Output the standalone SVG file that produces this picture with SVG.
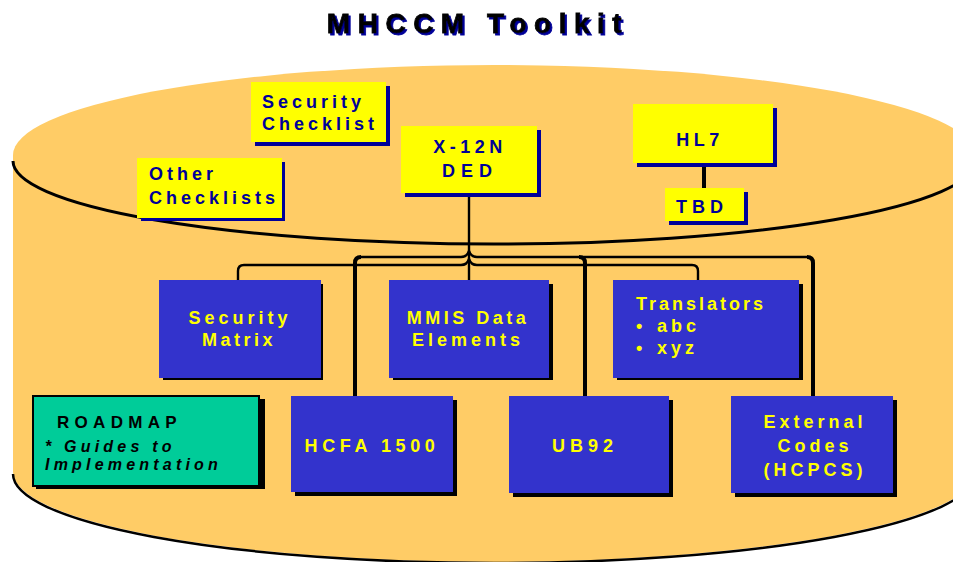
<svg xmlns="http://www.w3.org/2000/svg" width="953" height="562" viewBox="0 0 953 562">
  <defs>
    <filter id="blueShadow" x="-5%" y="-20%" width="110%" height="150%">
      <feOffset in="SourceAlpha" dx="2" dy="2" result="off"/>
      <feFlood flood-color="#000099"/>
      <feComposite in2="off" operator="in" result="shadow"/>
      <feMerge>
        <feMergeNode in="shadow"/>
        <feMergeNode in="SourceGraphic"/>
      </feMerge>
    </filter>
  </defs>
  <style>
    .ybox { fill: #FFFF00; }
    .yshd { fill: #000099; }
    .bbox { fill: #3333CC; }
    .bshd { fill: #000000; }
    .lbl { font-family: "Liberation Sans", Arial, sans-serif; font-weight: bold; font-size: 18px; }
    .yt { fill: #000099; letter-spacing: 4px; }
    .bt { fill: #FFFF00; letter-spacing: 4px; }
    .rm { fill: #000000; font-size: 17px; letter-spacing: 5.3px; }
    .rmi { fill: #000000; font-size: 16px; font-style: italic; letter-spacing: 4.2px; }
    .wire { fill: none; stroke: #000; stroke-width: 2.4; stroke-linejoin: round; }
    .bus { fill: none; stroke: #000; stroke-width: 4; stroke-linejoin: round; }
  </style>

  <rect width="953" height="562" fill="#FFFFFF"/>

  <!-- title with offset blue shadow -->
  <g id="title">
    <text x="478" y="33" text-anchor="middle" filter="url(#blueShadow)" font-family="'Liberation Sans', Arial, sans-serif" font-weight="bold" font-size="28" letter-spacing="7.5" fill="#000000" stroke="#000000" stroke-width="0.8">MHCCM Toolkit</text>
  </g>

  <!-- cylinder -->
  <g id="cylinder">
    <path d="M13,155 A481,90 0 0 1 975,155 L975,472 A481,90 0 0 1 13,472 Z" fill="#FFCC66"/>
    <path d="M13,474 A481,89 0 0 0 975,474" fill="none" stroke="#000" stroke-width="2.5"/>
    <path d="M13,161 A481,83 0 0 0 975,161" fill="none" stroke="#000" stroke-width="3"/>
  </g>

  <!-- connectors -->
  <g id="connectors">
    <path class="wire" d="M469,196 V280"/>
    <!-- upper bus line -->
    <path class="wire" d="M361,257 H461 Q467,257 469,251"/>
    <path class="wire" d="M469,251 Q471,257 477,257 H807"/>
    <!-- lower bus line -->
    <path class="wire" d="M238,280 V271 Q238,265 244,265 H461 Q467,265 469,259"/>
    <path class="wire" d="M469,259 Q471,265 477,265 H692 Q698,265 698,271 V280"/>
    <!-- drops to the lower row -->
    <path class="bus" d="M355,396 V263 Q355,257 361,257"/>
    <path class="bus" d="M579,257 Q585,257 585,263 V396"/>
    <path class="bus" d="M807,257 Q813,257 813,263 V396"/>
    <!-- HL7 to TBD -->
    <path class="bus" d="M704,166 V188"/>
  </g>

  <!-- upper standards -->
  <g id="security-checklist">
    <rect class="yshd" x="255" y="86" width="135" height="60"/>
    <rect class="ybox" x="251" y="82" width="135" height="60"/>
    <text class="lbl yt" x="262" y="108">Security</text>
    <text class="lbl yt" x="262" y="130">Checklist</text>
  </g>

  <g id="other-checklists">
    <rect class="yshd" x="141" y="162" width="144" height="59"/>
    <rect class="ybox" x="137" y="158" width="145" height="60"/>
    <text class="lbl yt" x="149" y="180">Other</text>
    <text class="lbl yt" x="149" y="204">Checklists</text>
  </g>

  <g id="x12n-ded">
    <rect class="yshd" x="405" y="130" width="136" height="67"/>
    <rect class="ybox" x="401" y="126" width="136" height="67"/>
    <text class="lbl yt" x="470" y="153" text-anchor="middle" style="letter-spacing:4.5px">X-12N</text>
    <text class="lbl yt" x="470" y="177" text-anchor="middle" style="letter-spacing:6px">DED</text>
  </g>

  <g id="hl7">
    <rect class="yshd" x="637" y="108" width="140" height="59"/>
    <rect class="ybox" x="633" y="104" width="140" height="59"/>
    <text class="lbl yt" x="700" y="146" text-anchor="middle" style="letter-spacing:4.5px">HL7</text>
  </g>

  <g id="tbd">
    <rect class="yshd" x="669" y="192" width="79" height="33"/>
    <rect class="ybox" x="665" y="188" width="79" height="33"/>
    <text class="lbl yt" x="676" y="213" style="letter-spacing:5px">TBD</text>
  </g>

  <!-- middle row -->
  <g id="security-matrix">
    <rect class="bshd" x="163" y="284" width="160" height="96"/>
    <rect class="bbox" x="159" y="280" width="162" height="98"/>
    <text class="lbl bt" x="240" y="324" text-anchor="middle">Security</text>
    <text class="lbl bt" x="239" y="346" text-anchor="middle" style="letter-spacing:3.5px">Matrix</text>
  </g>

  <g id="mmis-data-elements">
    <rect class="bshd" x="393" y="284" width="160" height="96"/>
    <rect class="bbox" x="389" y="280" width="160" height="98"/>
    <text class="lbl bt" x="468" y="324" text-anchor="middle" style="letter-spacing:3.5px">MMIS Data</text>
    <text class="lbl bt" x="468" y="346" text-anchor="middle">Elements</text>
  </g>

  <g id="translators">
    <rect class="bshd" x="617" y="284" width="186" height="96"/>
    <rect class="bbox" x="613" y="280" width="186" height="98"/>
    <text class="lbl bt" x="636" y="310" style="letter-spacing:3px">Translators</text>
    <text class="lbl bt" x="636" y="332">•</text>
    <text class="lbl bt" x="657" y="332">abc</text>
    <text class="lbl bt" x="636" y="354">•</text>
    <text class="lbl bt" x="657" y="354">xyz</text>
  </g>

  <!-- bottom row -->
  <g id="roadmap">
    <rect x="36" y="399" width="229" height="90" fill="#000"/>
    <rect x="33" y="396" width="226" height="90" fill="#00CC99" stroke="#000" stroke-width="2"/>
    <text class="lbl rm" x="57" y="428">ROADMAP</text>
    <text class="lbl rmi" x="45" y="452">* Guides to</text>
    <text class="lbl rmi" x="45" y="470">Implementation</text>
  </g>

  <g id="hcfa-1500">
    <rect class="bshd" x="295" y="400" width="162" height="96"/>
    <rect class="bbox" x="291" y="396" width="162" height="96"/>
    <text class="lbl bt" x="372" y="452" text-anchor="middle" style="letter-spacing:4.6px">HCFA 1500</text>
  </g>

  <g id="ub92">
    <rect class="bshd" x="513" y="400" width="160" height="97"/>
    <rect class="bbox" x="509" y="396" width="160" height="97"/>
    <text class="lbl bt" x="585" y="452" text-anchor="middle" style="letter-spacing:5px">UB92</text>
  </g>

  <g id="external-codes">
    <rect class="bshd" x="735" y="400" width="162" height="97"/>
    <rect class="bbox" x="731" y="396" width="162" height="97"/>
    <text class="lbl bt" x="815" y="428" text-anchor="middle">External</text>
    <text class="lbl bt" x="815" y="452" text-anchor="middle">Codes</text>
    <text class="lbl bt" x="815" y="476" text-anchor="middle">(HCPCS)</text>
  </g>
</svg>
